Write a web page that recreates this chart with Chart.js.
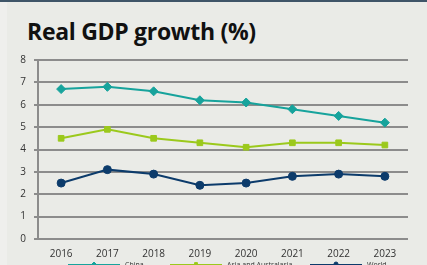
<!DOCTYPE html>
<html><head><meta charset="utf-8">
<script src="https://cdn.jsdelivr.net/npm/chart.js@4/dist/chart.umd.min.js"></script>
<style>
html,body{margin:0;padding:0;background:#eaebe7;}
body{width:427px;height:265px;position:relative;overflow:hidden;border-top:2px solid #3f5568;box-sizing:border-box;}
#strip{position:absolute;left:0;top:0;width:7px;height:265px;background:#efefed;}
#title{position:absolute;left:27px;top:13px;font-family:"Open Sans",sans-serif;font-weight:700;font-size:23px;color:#111;letter-spacing:-0.3px;white-space:nowrap;}
#wrap{position:absolute;left:0;top:0;width:427px;height:265px;}
</style></head><body>
<div id="strip"></div>
<div id="title">Real GDP growth (%)</div>
<div id="wrap"><canvas id="c" width="427" height="265"></canvas></div>
<script>
const years = ["2016","2017","2018","2019","2020","2021","2022","2023"];
const china = [6.7, 6.8, 6.6, 6.2, 6.1, 5.8, 5.5, 5.2];
const asia = [4.5, 4.9, 4.5, 4.3, 4.1, 4.3, 4.3, 4.2];
const world = [2.5, 3.1, 2.9, 2.4, 2.5, 2.8, 2.9, 2.8];
const seriesNames = ["China", "Asia and Australasia", "World"];

const colors = ["#17a39c", "#9bc91c", "#0c3b6b"];
const styles = ["rectRot", "rect", "circle"];
const radii = [4.5, 4, 4];

const legendPlugin = {
  id: 'customLegend',
  afterDraw(chart) {
    const ctx = chart.ctx;
    const starts = [68, 170, 310];
    const y = 263;
    chart.data.datasets.forEach((ds, i) => {
      const x0 = starts[i], x1 = x0 + 52;
      ctx.save();
      ctx.strokeStyle = ds.borderColor;
      ctx.lineWidth = 2;
      ctx.beginPath(); ctx.moveTo(x0, y); ctx.lineTo(x1, y); ctx.stroke();
      ctx.lineWidth = 1;
      ctx.fillStyle = ds.borderColor;
      Chart.helpers.drawPoint(ctx, {pointStyle: ds.pointStyle, radius: 2, borderWidth: 1}, (x0 + x1) / 2, y - 1);
      ctx.fillStyle = '#333';
      ctx.font = '7px "Open Sans", sans-serif';
      ctx.textBaseline = 'top';
      ctx.fillText(ds.label, x1 + 5, 259.5);
      ctx.restore();
    });
  }
};

const mk = (i, data) => ({
  label: seriesNames[i], data,
  borderColor: colors[i], backgroundColor: colors[i],
  pointStyle: styles[i], pointRadius: radii[i], pointHoverRadius: radii[i],
  borderWidth: 2, tension: 0, pointBorderWidth: 1
});

new Chart(document.getElementById('c'), {
  type: 'line',
  data: { labels: years, datasets: [mk(0, china), mk(1, asia), mk(2, world)] },
  options: {
    responsive: false, animation: false,
    layout: { padding: { left: 0, right: 19, top: 58, bottom: 8 } },
    plugins: { legend: { display: false }, title: { display: false }, tooltip: { enabled: false } },
    scales: {
      x: {
        offset: true,
        grid: { display: false },
        border: { display: false },
        ticks: { color: '#333', font: { family: '"Open Sans", sans-serif', size: 10 }, padding: 1, maxRotation: 0 },
        afterFit(s) { s.height = 20; }
      },
      y: {
        min: 0, max: 8,
        ticks: { stepSize: 1, color: '#333', font: { family: '"Open Sans", sans-serif', size: 10 }, padding: 8 },
        grid: { color: '#8c8c8c', lineWidth: 2, tickLength: 4, drawTicks: true },
        border: { display: true, color: '#8c8c8c', width: 2 },
        afterFit(s) { s.width = 38; }
      }
    }
  },
  plugins: [legendPlugin]
});
</script>
</body></html>
